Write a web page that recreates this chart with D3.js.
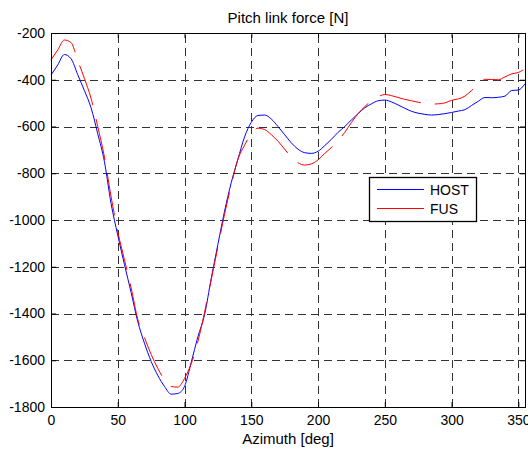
<!DOCTYPE html>
<html><head><meta charset="utf-8">
<script src="https://cdn.jsdelivr.net/npm/d3@7"></script>
<style>body{margin:0;background:#fff}svg{display:block}text{font-family:Arial,"Liberation Sans",sans-serif;fill:#000}</style>
</head><body>
<svg id="chart" width="528" height="450"></svg>
<script>
const azimuth = [0,5,10,15,20,25,30,35,40,45,50,55,60,65,70,75,80,85,90,95,100,105,110,115,120,125,130,135,140,145,150,155,160,165,170,175,180,185,190,195,200,205,210,215,220,225,230,235,240,245,250,255,260,265,270,275,280,285,290,295,300,305,310,315,320,325,330,335,340,345,350,355];
const host = [-380,-337,-292,-310,-378,-446,-520,-631,-750,-930,-1065,-1190,-1310,-1435,-1527,-1605,-1665,-1712,-1745,-1742,-1712,-1609,-1500,-1405,-1250,-1104,-962,-840,-740,-644,-582,-553,-551,-568,-600,-635,-670,-697,-712,-715,-706,-682,-655,-625,-600,-572,-545,-520,-503,-490,-487,-495,-508,-522,-535,-543,-548,-551,-549,-545,-540,-534,-528,-510,-492,-476,-477,-475,-470,-446,-444,-417];
const fus = [-315,-273,-230,-241,-317,-394,-480,-600,-730,-900,-1050,-1170,-1290,-1425,-1503,-1575,-1635,-1683,-1712,-1715,-1678,-1615,-1520,-1395,-1255,-1115,-975,-850,-740,-680,-630,-607,-613,-635,-663,-697,-731,-755,-765,-760,-743,-715,-690,-660,-625,-583,-545,-515,-490,-473,-463,-468,-476,-484,-490,-496,-501,-504,-503,-499,-488,-482,-470,-446,-421,-398,-399,-400,-388,-375,-369,-353];
const xTicks = [0,50,100,150,200,250,300,350];
const yTicks = [-1800,-1600,-1400,-1200,-1000,-800,-600,-400,-200];
const seriesNames = ["HOST","FUS"];
const seriesColors = ["#0000ff","#ff0000"];
const titleText = "Pitch link force [N]";
const xLabel = "Azimuth [deg]";

const svg = d3.select("#chart");
const L = 51, R = 525, T = 33, B = 407;
const x = d3.scaleLinear().domain([0,355]).range([L,R]);
const y = d3.scaleLinear().domain([-1800,-200]).range([B,T]);

// grid
const g = svg.append("g");
g.selectAll(".vg").data(xTicks.filter(d=>d>0)).join("line")
  .attr("x1",d=>Math.round(x(d))+0.5).attr("x2",d=>Math.round(x(d))+0.5)
  .attr("y1",B).attr("y2",T)
  .attr("stroke","#333").attr("stroke-width",1).attr("stroke-dasharray","8,5");
g.selectAll(".hg").data(yTicks.filter(d=>d>-1800&&d<-200)).join("line")
  .attr("y1",d=>Math.round(y(d))+0.5).attr("y2",d=>Math.round(y(d))+0.5)
  .attr("x1",L).attr("x2",R)
  .attr("stroke","#333").attr("stroke-width",1).attr("stroke-dasharray","8,5");

// lines
const line = d3.line().x((d,i)=>x(azimuth[i])).y(d=>y(d)).curve(d3.curveMonotoneX);
svg.append("path").datum(host).attr("d",line).attr("fill","none")
  .attr("stroke",seriesColors[0]).attr("stroke-width",1);
svg.append("path").datum(fus).attr("d",line).attr("fill","none")
  .attr("stroke",seriesColors[1]).attr("stroke-width",1).attr("stroke-dasharray","42,14");

// axes
const fmt = d => String(d);
const xAxisB = d3.axisBottom(x).tickValues(xTicks).tickSize(-5).tickPadding(8).tickFormat(fmt);
const xAxisT = d3.axisTop(x).tickValues(xTicks).tickSize(-5).tickFormat(() => "");
const yAxisL = d3.axisLeft(y).tickValues(yTicks).tickSize(-5).tickPadding(6).tickFormat(fmt);
const yAxisR = d3.axisRight(y).tickValues(yTicks).tickSize(-5).tickFormat(() => "");
function style(sel){ sel.select(".domain").attr("stroke","#000").attr("stroke-width",1); sel.selectAll(".tick line").attr("stroke","#000"); sel.selectAll("text").attr("font-size","14px").attr("font-family","Arial, 'Liberation Sans', sans-serif").attr("fill","#000"); }
svg.append("g").attr("transform",`translate(0,${B})`).call(xAxisB).call(style);
svg.append("g").attr("transform",`translate(0,${T})`).call(xAxisT).call(style);
svg.append("g").attr("transform",`translate(${L},0)`).call(yAxisL).call(style);
svg.append("g").attr("transform",`translate(${R},0)`).call(yAxisR).call(style);

// title & label
svg.append("text").attr("x",(L+R)/2).attr("y",23).attr("text-anchor","middle").attr("font-size","15px").text(titleText);
svg.append("text").attr("x",(L+R)/2).attr("y",444).attr("text-anchor","middle").attr("font-size","15px").text(xLabel);

// legend
const lg = svg.append("g");
lg.append("rect").attr("x",369.5).attr("y",177.5).attr("width",107).attr("height",44)
  .attr("fill","#fff").attr("stroke","#000").attr("stroke-width",1.3);
seriesNames.forEach((n,i)=>{
  const yy = 189.5 + i*19;
  lg.append("line").attr("x1",377).attr("x2",424).attr("y1",yy).attr("y2",yy)
    .attr("stroke",seriesColors[i]).attr("stroke-width",1);
  lg.append("text").attr("x",430).attr("y",yy+5.5).attr("font-size","14px").text(n);
});
</script>
</body></html>
